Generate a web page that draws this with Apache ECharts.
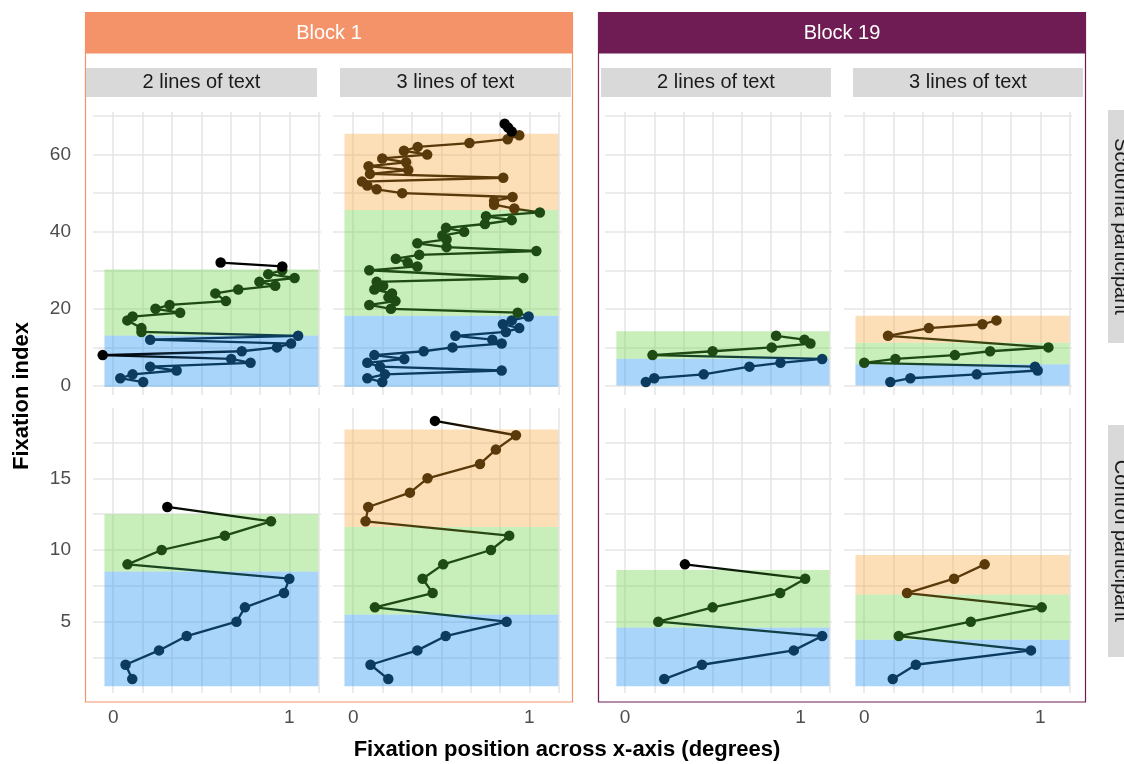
<!DOCTYPE html>
<html><head><meta charset="utf-8">
<script src="https://cdn.jsdelivr.net/npm/echarts@6/dist/echarts.min.js"></script>
<style>html,body{margin:0;padding:0;background:#fff}#c{width:1124px;height:764px}</style>
</head><body><div id="c"></div>
<script>
// ---------------- data ----------------
const xTickLabels = [0, 1];
const xGridValues = [0, 1/6, 2/6, 3/6, 4/6, 5/6, 1, 7/6];
const yTopLabels = [0, 20, 40, 60];
const yTopGrid = [0, 10, 20, 30, 40, 50, 60, 70];
const yBotLabels = [5, 10, 15];
const yBotGrid = [2.5, 5, 7.5, 10, 12.5, 15, 17.5];

const blocks = ['Block 1', 'Block 19'];
const layouts = ['2 lines of text', '3 lines of text'];
const participants = ['Scotoma participant', 'Control participant'];
const xTitle = 'Fixation position across x-axis (degrees)';
const yTitle = 'Fixation index';

// Scotoma participant, Block 1, 2 lines
const sc_b1_l2_idx = [1,2,3,4,5,6,7,8,9,10,11,12,13,14,15,17,18,19,20,21,22,24,25,26,27,28,29,30,31,32];
const sc_b1_l2_x = [0.17,0.04,0.11,0.36,0.21,0.78,0.67,-0.06,0.73,0.93,1.01,0.21,1.05,0.16,0.16,0.08,0.11,0.38,0.24,0.32,0.64,0.58,0.71,0.92,0.83,1.03,0.88,0.96,0.96,0.61];
const sc_b1_l2_line = ['b','b','b','b','b','b','b','k','b','b','b','b','b','g','g','g','g','g','g','g','g','g','g','g','g','g','g','g','k','k'];
const sc_b1_l2_bands = [[-0.2,13.05,'b'],[13.05,30.2,'g']];

// Scotoma participant, Block 1, 3 lines
const sc_b1_l3_idx = [1,2,3,4,5,6,7,8,9,10,11,12,13,14,15,16,17,18,19,20,21,22,23,24,25,26,27,28,
  30,31,32,33,34,35,36,37,38,39,40,41,42,43,44,45,46,47,48,49,50,51,52,53,54,55,56,57,58,59,60,61,62,63,64,65,66,67,68];
const sc_b1_l3_x = [0.165,0.08,0.18,0.843,0.152,0.08,0.29,0.12,0.40,0.564,
  0.843,0.79,0.58,0.867,0.943,0.85,0.90,0.996,0.934,0.214,
  0.091,0.24,0.20,0.22,0.12,0.17,0.133,0.966,
  0.091,0.364,0.309,0.242,0.375,1.04,0.53,0.364,0.53,0.506,
  0.63,0.527,0.748,0.90,0.754,1.06,0.915,0.80,0.80,0.905,
  0.278,0.133,0.08,0.05,0.852,0.095,0.3125,0.087,0.30,0.165,
  0.42,0.288,0.366,0.66,0.877,0.943,0.90,0.88,0.86];
const sc_b1_l3_line = [].concat(Array(18).fill('b'), Array(26).fill('g'), Array(20).fill('o'), Array(3).fill('k'));
const sc_b1_l3_bands = [[-0.2,18.2,'b'],[18.2,45.6,'g'],[45.6,65.4,'o']];

// Scotoma participant, Block 19, 2 lines
const sc_b19_l2_idx = [1,2,3,5,6,7,8,9,10,11,12,13];
const sc_b19_l2_x = [0.118,0.166,0.448,0.709,0.886,1.124,0.156,0.499,0.836,1.057,1.023,0.861];
const sc_b19_l2_line = ['b','b','b','b','b','b','g','g','g','g','g','g'];
const sc_b19_l2_bands = [[0.1,7.05,'b'],[7.05,14.2,'g']];

// Scotoma participant, Block 19, 3 lines
const sc_b19_l3_idx = [1,2,3,4,5,6,7,8,9,10,13,15,16,17];
const sc_b19_l3_x = [0.148,0.262,0.639,0.985,0.97,0.0,0.177,0.515,0.715,1.046,0.135,0.367,0.671,0.751];
const sc_b19_l3_line = ['b','b','b','b','b','g','g','g','g','g','o','o','o','o'];
const sc_b19_l3_bands = [[0.1,5.6,'b'],[5.6,11.2,'g'],[11.2,18.2,'o']];

// Control participant, Block 1, 2 lines
const ct_b1_l2_idx = [1,2,3,4,5,6,7,8,9,10,11,12,13];
const ct_b1_l2_x = [0.108,0.07,0.26,0.417,0.70,0.748,0.97,1.0,0.081,0.275,0.634,0.896,0.307];
const ct_b1_l2_line = ['b','b','b','b','b','b','b','b','g','g','g','g','k'];
const ct_b1_l2_bands = [[0.5,8.5,'b'],[8.5,12.5,'g']];

// Control participant, Block 1, 3 lines
const ct_b1_l3_idx = [1,2,3,4,5,6,7,8,9,10,11,12,13,14,15,16,17,18,19];
const ct_b1_l3_x = [0.199,0.098,0.364,0.525,0.871,0.123,0.451,0.394,0.511,0.782,0.886,0.07,0.085,0.322,0.422,0.72,0.81,0.924,0.464];
const ct_b1_l3_line = ['b','b','b','b','b','g','g','g','g','g','g','o','o','o','o','o','o','o','k'];
const ct_b1_l3_bands = [[0.5,5.5,'b'],[5.5,11.6,'g'],[11.6,18.4,'o']];

// Control participant, Block 19, 2 lines
const ct_b19_l2_idx = [1,2,3,4,5,6,7,8,9];
const ct_b19_l2_x = [0.223,0.438,0.962,1.124,0.189,0.499,0.884,1.027,0.341];
const ct_b19_l2_line = ['b','b','b','b','g','g','g','g','k'];
const ct_b19_l2_bands = [[0.5,4.6,'b'],[4.6,8.6,'g']];

// Control participant, Block 19, 3 lines
const ct_b19_l3_idx = [1,2,3,4,5,6,7,8,9];
const ct_b19_l3_x = [0.162,0.293,0.947,0.196,0.605,1.008,0.243,0.51,0.684];
const ct_b19_l3_line = ['b','b','b','g','g','g','o','o','o'];
const ct_b19_l3_bands = [[0.5,3.75,'b'],[3.75,6.9,'g'],[6.9,9.65,'o']];

const rectX = [-0.05, 1.165];

// ---------------- styling ----------------
const FONT = '"Liberation Sans", Arial, Helvetica, sans-serif';
const CODE = {b:0, g:1, o:2, k:3};
const PT = ['#0b3b5f', '#1e4a13', '#5a3a0a', '#000000'];
const BAND = ['rgba(43,150,242,0.4)', 'rgba(118,213,83,0.4)', 'rgba(250,175,75,0.4)'];
const GRID = '#e6e6e6';
const BLOCK_COLORS = ['#f4936a', '#6e1c53'];
const xMin = -0.115, xMax = 1.18;

const colLeft = [93, 333, 605, 844];
const colWidth = [228, 228, 227, 228];
const rowTop = [112, 408];
const rowHeight = [283, 285];
const rowAxis = [
  {min:-2.35, max:71.05, grid:yTopGrid, labels:yTopLabels},
  {min:0.03, max:19.9, grid:yBotGrid, labels:yBotLabels}
];

const panels = [
  {row:0,col:0,idx:sc_b1_l2_idx,x:sc_b1_l2_x,line:sc_b1_l2_line,bands:sc_b1_l2_bands},
  {row:0,col:1,idx:sc_b1_l3_idx,x:sc_b1_l3_x,line:sc_b1_l3_line,bands:sc_b1_l3_bands},
  {row:0,col:2,idx:sc_b19_l2_idx,x:sc_b19_l2_x,line:sc_b19_l2_line,bands:sc_b19_l2_bands},
  {row:0,col:3,idx:sc_b19_l3_idx,x:sc_b19_l3_x,line:sc_b19_l3_line,bands:sc_b19_l3_bands},
  {row:1,col:0,idx:ct_b1_l2_idx,x:ct_b1_l2_x,line:ct_b1_l2_line,bands:ct_b1_l2_bands},
  {row:1,col:1,idx:ct_b1_l3_idx,x:ct_b1_l3_x,line:ct_b1_l3_line,bands:ct_b1_l3_bands},
  {row:1,col:2,idx:ct_b19_l2_idx,x:ct_b19_l2_x,line:ct_b19_l2_line,bands:ct_b19_l2_bands},
  {row:1,col:3,idx:ct_b19_l3_idx,x:ct_b19_l3_x,line:ct_b19_l3_line,bands:ct_b19_l3_bands}
];

const grids = [], xAxes = [], yAxes = [], series = [];
panels.forEach((p, i) => {
  const ra = rowAxis[p.row];
  grids.push({left:colLeft[p.col], top:rowTop[p.row], width:colWidth[p.col], height:rowHeight[p.row]});
  xAxes.push({
    type:'value', gridIndex:i, min:xMin, max:xMax,
    axisLine:{show:false}, axisTick:{show:false, customValues:xGridValues},
    splitLine:{show:true, lineStyle:{color:GRID, width:1.6}},
    axisLabel:{show:p.row === 1, customValues:xTickLabels, margin:15, color:'#4d4d4d', fontSize:19, fontFamily:FONT,
      formatter: v => String(Math.round(v))}
  });
  yAxes.push({
    type:'value', gridIndex:i, min:ra.min, max:ra.max,
    axisLine:{show:false}, axisTick:{show:false, customValues:ra.grid},
    splitLine:{show:true, lineStyle:{color:GRID, width:1.6}},
    axisLabel:{show:p.col === 0, customValues:ra.labels, margin:22, color:'#4d4d4d', fontSize:19, fontFamily:FONT}
  });
  // bands
  series.push({
    type:'custom', xAxisIndex:i, yAxisIndex:i, z:1, silent:true,
    data: p.bands.map(b => [b[0], b[1], CODE[b[2]]]),
    encode:{y:[0,1]},
    renderItem:(params, api) => {
      const a = api.coord([rectX[0], api.value(1)]);
      const b = api.coord([rectX[1], api.value(0)]);
      return {type:'rect', shape:{x:a[0], y:a[1], width:b[0]-a[0], height:b[1]-a[1]},
        style:{fill:BAND[api.value(2)]}};
    }
  });
  // path segments (gradient between consecutive fixation colours)
  const seg = [];
  for (let k = 0; k < p.idx.length - 1; k++) {
    seg.push([p.x[k], p.idx[k], p.x[k+1], p.idx[k+1], CODE[p.line[k]], CODE[p.line[k+1]]]);
  }
  series.push({
    type:'custom', xAxisIndex:i, yAxisIndex:i, z:2, silent:true,
    data: seg, encode:{x:[0,2], y:[1,3]},
    renderItem:(params, api) => {
      const a = api.coord([api.value(0), api.value(1)]);
      const b = api.coord([api.value(2), api.value(3)]);
      const c0 = PT[api.value(4)], c1 = PT[api.value(5)];
      const stroke = c0 === c1 ? c0 : new echarts.graphic.LinearGradient(a[0], a[1], b[0], b[1],
        [{offset:0, color:c0}, {offset:1, color:c1}], true);
      return {type:'line', shape:{x1:a[0], y1:a[1], x2:b[0], y2:b[1]},
        style:{stroke:stroke, lineWidth:2.3, fill:null, lineCap:'round'}};
    }
  });
  // fixation points
  series.push({
    type:'scatter', xAxisIndex:i, yAxisIndex:i, z:3, silent:true,
    symbol:'circle', symbolSize:10.5,
    data: p.idx.map((v, k) => [p.x[k], v, CODE[p.line[k]]]),
    itemStyle:{color: prm => PT[prm.value[2]], opacity:1}
  });
});

// ---------------- strips, borders, titles ----------------
function txt(x, y, text, opts) {
  return Object.assign({type:'text', x:x, y:y, z:100, silent:true,
    style:{text:text, fill:opts.fill || '#1a1a1a', font:opts.font,
      align:'center', verticalAlign:'middle', textAlign:'center', textVerticalAlign:'middle'}},
    opts.rotation !== undefined ? {rotation: opts.rotation} : {});
}
const blockX = [85, 598];
const blockW = 487;
const subStripX = [[86, 317], [340, 571], [601, 831], [853, 1083]];
const graphics = [];
blocks.forEach((b, j) => {
  graphics.push({type:'rect', z:99, silent:true, shape:{x:blockX[j]+0.5, y:12.5, width:blockW, height:689.5},
    style:{fill:'none', stroke:BLOCK_COLORS[j], lineWidth:1.2}});
  graphics.push({type:'rect', z:99, silent:true, shape:{x:blockX[j], y:12, width:blockW+1, height:41.5},
    style:{fill:BLOCK_COLORS[j]}});
  graphics.push(txt(blockX[j] + (blockW+1)/2, 33, b, {fill:'#ffffff', font:'20px ' + FONT}));
});
subStripX.forEach((s, j) => {
  graphics.push({type:'rect', z:99, silent:true, shape:{x:s[0], y:68, width:s[1]-s[0], height:29},
    style:{fill:'#d9d9d9'}});
  graphics.push(txt((s[0]+s[1])/2, 82.5, layouts[j % 2], {font:'20px ' + FONT}));
});
const sideStrips = [[110, 343], [425, 657]];
sideStrips.forEach((s, j) => {
  graphics.push({type:'rect', z:99, silent:true, shape:{x:1108, y:s[0], width:30, height:s[1]-s[0]},
    style:{fill:'#d9d9d9'}});
  graphics.push(txt(1121, (s[0]+s[1])/2, participants[j], {font:'20px ' + FONT, rotation:-Math.PI/2}));
});
graphics.push(txt(567, 750, xTitle, {fill:'#000', font:'bold 22px ' + FONT}));
graphics.push(txt(22, 396, yTitle, {fill:'#000', font:'bold 22px ' + FONT, rotation:Math.PI/2}));

const chart = echarts.init(document.getElementById('c'), null, {renderer:'canvas'});
chart.setOption({
  animation:false,
  backgroundColor:'#ffffff',
  grid:grids, xAxis:xAxes, yAxis:yAxes, series:series,
  graphic:{elements:graphics}
});
</script>
</body></html>
